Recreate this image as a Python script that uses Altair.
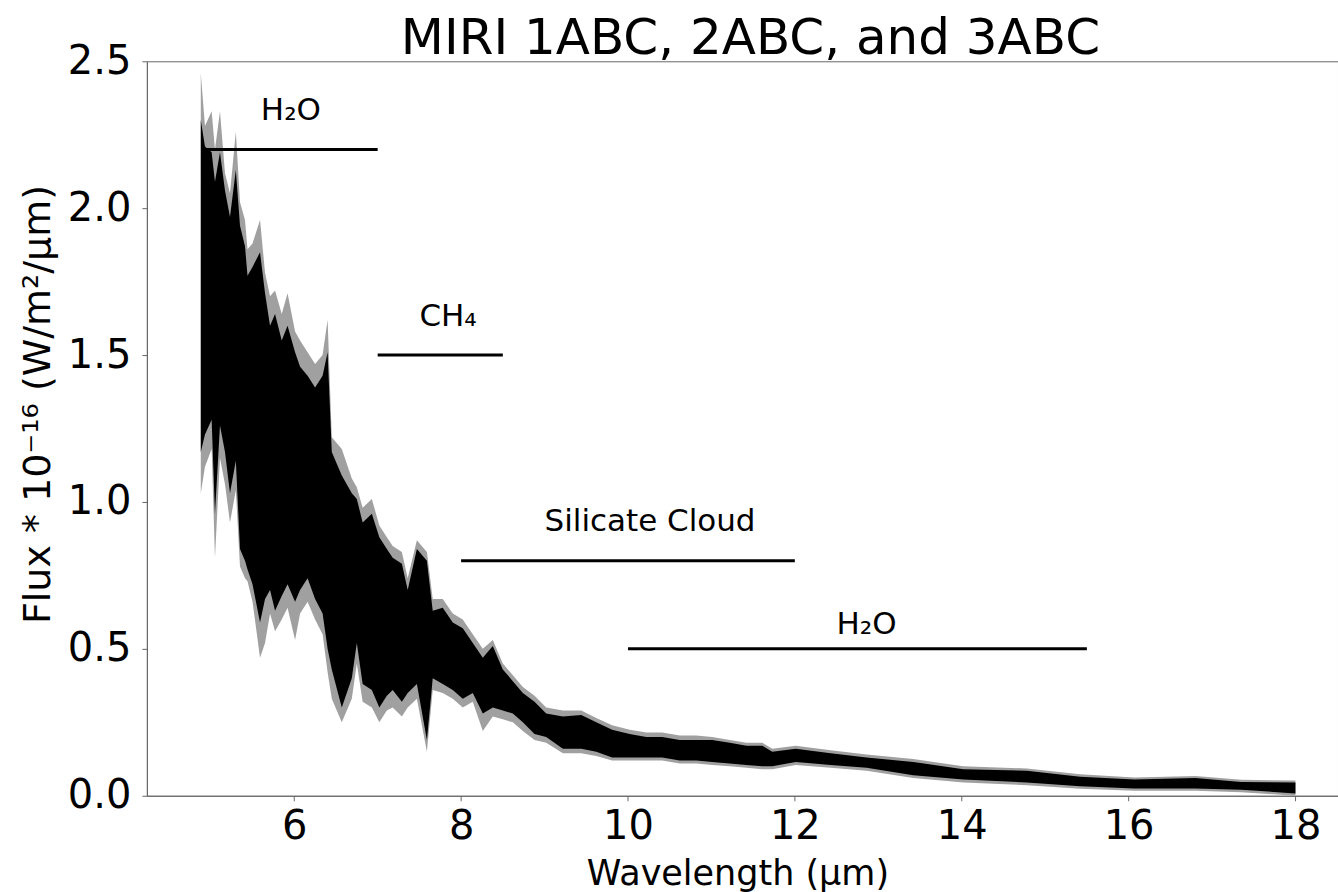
import altair as alt
import pandas as pd

# ---- spectrum ----
wavelength = [4.88, 4.93, 5.01, 5.05, 5.11, 5.17, 5.23, 5.30, 5.35, 5.41,
              5.44, 5.50, 5.59, 5.65, 5.71, 5.77, 5.85, 5.92, 6.01, 6.07,
              6.16, 6.25, 6.34, 6.40, 6.45, 6.57, 6.69, 6.75, 6.82, 6.93,
              7.02, 7.11, 7.18, 7.29, 7.36, 7.47, 7.59, 7.66, 7.78, 7.90,
              8.02, 8.14, 8.26, 8.38, 8.50, 8.62, 8.74, 8.88, 9.02, 9.22,
              9.44, 9.62, 9.81, 10.02, 10.22, 10.41, 10.62, 10.82, 11.01, 11.22,
              11.42, 11.61, 11.73, 12.01, 12.43, 12.86, 13.42, 14.02, 14.78, 15.42,
              16.07, 16.80, 17.35, 18.00]
flux_hi = [2.30, 2.21, 2.19, 2.09, 2.19, 2.06, 1.97, 2.13, 1.94, 1.87,
           1.77, 1.80, 1.85, 1.71, 1.60, 1.64, 1.55, 1.60, 1.51, 1.46,
           1.43, 1.39, 1.43, 1.51, 1.17, 1.09, 1.03, 1.01, 0.93, 0.96,
           0.88, 0.84, 0.81, 0.79, 0.70, 0.84, 0.80, 0.63, 0.64, 0.59,
           0.57, 0.52, 0.47, 0.51, 0.43, 0.39, 0.35, 0.32, 0.28, 0.27,
           0.275, 0.25, 0.225, 0.21, 0.20, 0.20, 0.19, 0.19, 0.19, 0.18,
           0.17, 0.17, 0.15, 0.16, 0.145, 0.13, 0.115, 0.09, 0.085, 0.065,
           0.055, 0.06, 0.047, 0.045]
flux_lo = [1.17, 1.23, 1.28, 0.96, 1.26, 1.17, 1.03, 1.14, 0.84, 0.80,
           0.77, 0.72, 0.59, 0.67, 0.70, 0.63, 0.68, 0.72, 0.66, 0.70,
           0.74, 0.67, 0.62, 0.50, 0.43, 0.30, 0.40, 0.52, 0.38, 0.36,
           0.30, 0.34, 0.36, 0.32, 0.35, 0.38, 0.19, 0.40, 0.38, 0.36,
           0.33, 0.35, 0.28, 0.30, 0.29, 0.28, 0.25, 0.21, 0.20, 0.16,
           0.16, 0.15, 0.13, 0.13, 0.13, 0.13, 0.12, 0.12, 0.115, 0.11,
           0.105, 0.10, 0.10, 0.115, 0.105, 0.095, 0.07, 0.055, 0.045, 0.032,
           0.025, 0.025, 0.02, 0.008]
err_hi = [2.46, 2.28, 2.33, 2.20, 2.33, 2.12, 2.05, 2.26, 2.02, 1.96,
          1.86, 1.88, 1.96, 1.78, 1.70, 1.72, 1.64, 1.71, 1.58, 1.55,
          1.51, 1.47, 1.50, 1.62, 1.22, 1.18, 1.08, 1.05, 0.98, 1.01,
          0.92, 0.88, 0.85, 0.83, 0.74, 0.87, 0.83, 0.67, 0.67, 0.62,
          0.60, 0.55, 0.50, 0.53, 0.45, 0.41, 0.37, 0.34, 0.30, 0.29,
          0.29, 0.265, 0.24, 0.225, 0.215, 0.215, 0.205, 0.205, 0.20, 0.19,
          0.18, 0.18, 0.16, 0.17, 0.155, 0.14, 0.125, 0.1, 0.093, 0.073,
          0.062, 0.067, 0.054, 0.052]
err_lo = [1.03, 1.12, 1.18, 0.81, 1.15, 1.06, 0.93, 1.04, 0.78, 0.74,
          0.73, 0.66, 0.47, 0.52, 0.62, 0.56, 0.60, 0.64, 0.53, 0.62,
          0.66, 0.60, 0.55, 0.42, 0.33, 0.25, 0.33, 0.45, 0.32, 0.30,
          0.25, 0.29, 0.30, 0.27, 0.30, 0.33, 0.15, 0.36, 0.35, 0.33,
          0.30, 0.32, 0.22, 0.27, 0.26, 0.25, 0.22, 0.19, 0.18, 0.145,
          0.145, 0.135, 0.12, 0.12, 0.12, 0.12, 0.11, 0.11, 0.105, 0.10,
          0.095, 0.09, 0.09, 0.105, 0.095, 0.085, 0.06, 0.045, 0.036, 0.024,
          0.017, 0.017, 0.012, 0.0]

# ---- feature annotations ----
band_start = [4.9, 7.0, 8.0, 10.0]
band_end = [7.0, 8.5, 12.0, 15.5]
band_level = [2.2, 1.5, 0.8, 0.5]
label_text = ["H\u2082O", "CH\u2084", "Silicate Cloud", "H\u2082O"]
label_x = [5.6, 7.5, 9.0, 12.5]
label_y = [2.3, 1.6, 0.9, 0.55]

chart_title = "MIRI 1ABC, 2ABC, and 3ABC"
x_ticks = [6, 8, 10, 12, 14, 16, 18]
y_ticks = [0.0, 0.5, 1.0, 1.5, 2.0, 2.5]

FONT = "DejaVu Sans"
AX = "#666666"

spec = pd.DataFrame({"wl": wavelength, "hi": flux_hi, "lo": flux_lo,
                     "ehi": err_hi, "elo": err_lo})
bands = pd.DataFrame({"x0": band_start, "x1": band_end, "y": band_level})
labels = pd.DataFrame({"t": label_text, "x": label_x, "y": label_y})
title_df = pd.DataFrame({"t": [chart_title]})

xscale = alt.Scale(domain=[4.234, 18.51], nice=False, zero=False)
yscale = alt.Scale(domain=[0, 2.5], nice=False, zero=False)

xaxis = alt.Axis(values=x_ticks, format="d", title="Wavelength (\u03bcm)",
                 grid=False, domainColor=AX, tickColor=AX, tickSize=5,
                 labelFontSize=40, labelFont=FONT, labelColor="black",
                 labelBaseline="alphabetic", labelPadding=38,
                 titleFont=FONT, titleFontSize=35, titleFontWeight="normal",
                 titleColor="black", titleBaseline="alphabetic",
                 titleX=591, titleY=89, titleAlign="center", titleAnchor="start")
yaxis = alt.Axis(values=y_ticks, format=".1f",
                 title="Flux * 10\u207b\u00b9\u2076 (W/m\u00b2/\u03bcm)",
                 grid=False, domainColor=AX, tickColor=AX, tickSize=5,
                 labelFontSize=40, labelFont=FONT, labelColor="black",
                 labelPadding=11,
                 titleFont=FONT, titleFontSize=38, titleFontWeight="normal",
                 titleColor="black", titleBaseline="alphabetic",
                 titleX=-97, titleY=343, titleAlign="center", titleAnchor="start",
                 titleAngle=270)

err = alt.Chart(spec).mark_area(color="#a0a0a0", opacity=1).encode(
    x=alt.X("wl:Q", scale=xscale, axis=xaxis),
    y=alt.Y("elo:Q", scale=yscale, axis=yaxis),
    y2="ehi:Q",
)
flux = alt.Chart(spec).mark_area(color="black", opacity=1).encode(
    x=alt.X("wl:Q", scale=xscale),
    y=alt.Y("lo:Q", scale=yscale),
    y2="hi:Q",
)
rules = alt.Chart(bands).mark_rule(color="black", strokeWidth=3).encode(
    x=alt.X("x0:Q", scale=xscale),
    x2="x1:Q",
    y=alt.Y("y:Q", scale=yscale),
)
texts = alt.Chart(labels).mark_text(font=FONT, fontSize=31, align="left",
                                    baseline="alphabetic", color="black").encode(
    x=alt.X("x:Q", scale=xscale),
    y=alt.Y("y:Q", scale=yscale),
    text="t:N",
)
title_mark = alt.Chart(title_df).mark_text(
    font=FONT, fontSize=50, align="center", baseline="alphabetic",
    color="black").encode(
    x=alt.value(604), y=alt.value(-7), text="t:N",
)

chart = alt.layer(err, flux, rules, texts, title_mark).properties(
    width=1192, height=735,
    autosize=alt.AutoSizeParams(type="none"),
    padding={"left": 147, "top": 61, "right": 0, "bottom": 96},
    background="white",
).configure_view(stroke=AX, strokeWidth=1)

chart.save("out.html", embed_options={"renderer": "svg", "actions": False})
